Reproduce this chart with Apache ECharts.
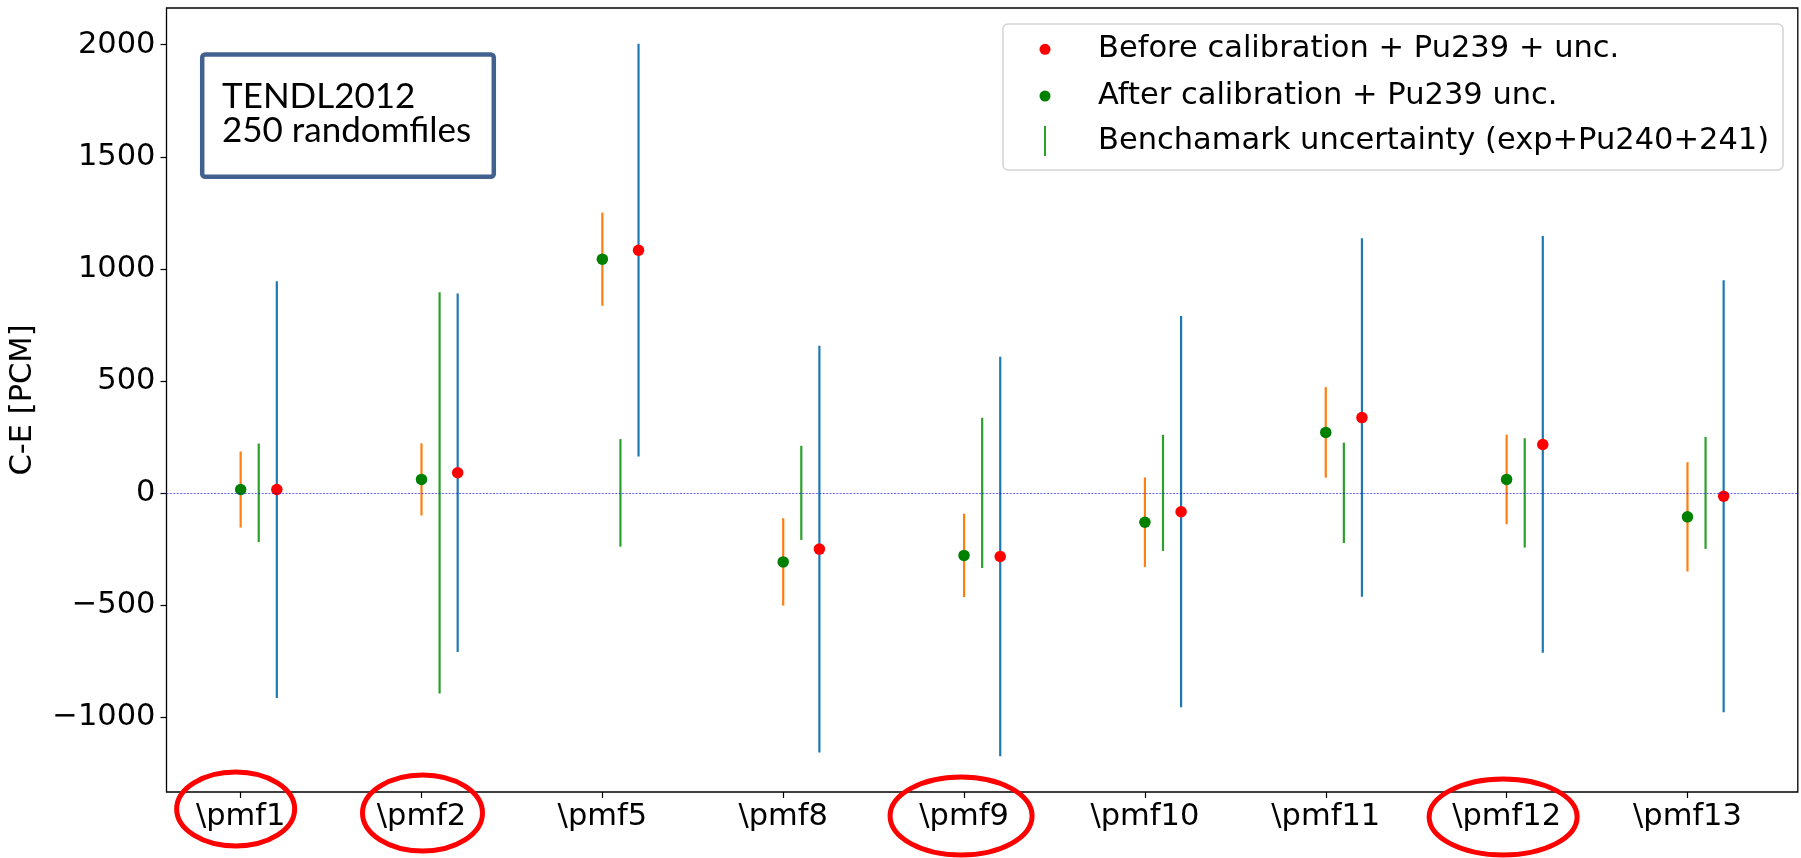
<!DOCTYPE html>
<html>
<head>
<meta charset="utf-8">
<title>C-E per benchmark</title>
<script src="https://cdn.jsdelivr.net/npm/echarts@6/dist/echarts.min.js"></script>
<style>
  html, body { margin: 0; padding: 0; background: #ffffff; }
  #chart { width: 1801px; height: 858px; }
</style>
</head>
<body>
<div id="chart"></div>
<script>
// Benchmarks on the x axis
const categories = ['\\pmf1', '\\pmf2', '\\pmf5', '\\pmf8', '\\pmf9', '\\pmf10', '\\pmf11', '\\pmf12', '\\pmf13'];
// C-E after calibration (pcm) and its Pu239 uncertainty (half-width)
const afterCal = [15, 60, 1043, -308, -279, -131, 270, 60, -107];
const afterUnc = [170, 161, 208, 195, 186, 200, 202, 200, 244];
// C-E before calibration (pcm) and its uncertainty (half-width)
const beforeCal = [15, 90, 1083, -251, -284, -84, 336, 216, -15];
const beforeUnc = [930, 800, 921, 908, 891, 873, 800, 930, 964];
// Benchmark uncertainty (exp + Pu240 + Pu241), half-width around zero
const benchUnc = [220, 895, 240, 210, 335, 259, 224, 244, 250];
// Y tick values
const yTicks = [-1000, -500, 0, 500, 1000, 1500, 2000];
// Benchmarks circled below the axis
const circled = ['\\pmf1', '\\pmf2', '\\pmf9', '\\pmf12'];

const NAME_BEFORE = 'Before calibration + Pu239 + unc.';
const NAME_AFTER = 'After calibration + Pu239 unc.';
const NAME_BENCH = 'Benchamark uncertainty (exp+Pu240+241)';

// Horizontal offsets of the three marks within one benchmark slot
const OFFSET_AFTER = 0, OFFSET_BENCH = 0.1, OFFSET_BEFORE = 0.2;

const FONT = 'DejaVu Sans';
const FS = 30.5;

const C_BLUE = '#1f77b4', C_ORANGE = '#ff7f0e', C_GREEN_BAR = '#2ca02c';
const C_RED = '#ff0000', C_GREEN = '#008000';

const chart = echarts.init(document.getElementById('chart'), null, { renderer: 'canvas', width: 1801, height: 858 });

const xIdx = categories.map((_, i) => i);

function points(values, offset) {
  return values.map((v, i) => [i + offset, v]);
}
function ranges(values, half, offset) {
  return values.map((v, i) => [i + offset, v - half[i], v + half[i]]);
}

function errorBars(name, data, color, extra) {
  return Object.assign({
    type: 'custom',
    name: name,
    data: data,
    encode: { x: 0, y: [1, 2] },
    z: 2,
    silent: true,
    renderItem: function (params, api) {
      const x = api.value(0);
      const a = api.coord([x, api.value(1)]);
      const b = api.coord([x, api.value(2)]);
      return {
        type: 'line',
        shape: { x1: a[0], y1: a[1], x2: b[0], y2: b[1] },
        style: { stroke: color, lineWidth: 2.2 }
      };
    }
  }, extra || {});
}

function fmtY(v) {
  return v < 0 ? '\u2212' + Math.abs(v) : String(v);
}

const labelStyle = { fontFamily: FONT, fontSize: FS, color: '#000' };

function legendRow(name, icon, color, left, top, w, h, padLeft) {
  return {
    data: [{ name: name, icon: icon, itemStyle: { color: color } }],
    orient: 'vertical',
    left: left,
    top: top,
    itemWidth: w,
    itemHeight: h,
    padding: 0,
    selectedMode: false,
    textStyle: Object.assign({ lineHeight: 36, padding: [0, 0, 0, padLeft] }, labelStyle)
  };
}

chart.setOption({
  animation: false,
  backgroundColor: '#ffffff',
  grid: {
    left: 166.5, right: 3.2, top: 8, bottom: 66,
    show: true, borderColor: '#000', borderWidth: 1.3,
    outerBoundsMode: 'none'
  },
  xAxis: {
    type: 'value',
    min: -0.41, max: 8.61,
    axisLine: { show: false, onZero: false },
    splitLine: { show: false },
    axisTick: { show: true, inside: false, customValues: xIdx, length: 6, lineStyle: { color: '#000', width: 1.2 } },
    axisLabel: Object.assign({
      customValues: xIdx,
      margin: 7,
      lineHeight: 36,
      formatter: v => categories[Math.round(v)]
    }, labelStyle)
  },
  yAxis: {
    type: 'value',
    min: -1335, max: 2164,
    axisLine: { show: false, onZero: false },
    splitLine: { show: false },
    axisTick: { show: true, inside: false, customValues: yTicks, length: 6, lineStyle: { color: '#000', width: 1.2 } },
    axisLabel: Object.assign({ customValues: yTicks, margin: 11, formatter: fmtY }, labelStyle),
    name: 'C-E [PCM]',
    nameLocation: 'middle',
    nameRotate: 90,
    nameGap: 116,
    nameTextStyle: Object.assign({ lineHeight: 36 }, labelStyle)
  },
  legend: [
    legendRow(NAME_BEFORE, 'circle', C_RED, 1039.5, 31.3, 11, 11, 42.5),
    legendRow(NAME_AFTER, 'circle', C_GREEN, 1039.5, 78, 11, 11, 42.5),
    legendRow(NAME_BENCH, 'path://M0,0H2V30H0Z', C_GREEN_BAR, 1044, 123, 2, 30, 47)
  ],
  graphic: [
    {
      id: 'legendFrame', type: 'rect', z: 3,
      shape: { x: 1003, y: 24, width: 780, height: 146, r: 5 },
      style: { fill: 'rgba(255,255,255,0.8)', stroke: '#d4d4d4', lineWidth: 1.5 }
    },
    {
      id: 'infoBox', type: 'rect', z: 3,
      shape: { x: 202.2, y: 54.5, width: 291.6, height: 122.3, r: 3 },
      style: { fill: '#ffffff', stroke: '#41618f', lineWidth: 4.5 }
    },
    {
      id: 'infoText', type: 'text', z: 4,
      x: 222, y: 80,
      style: {
        text: 'TENDL2012\n250 randomfiles',
        font: '35px Lato',
        lineHeight: 34,
        fill: '#000',
        textVerticalAlign: 'top'
      }
    }
  ],
  series: [
    errorBars('Before calibration unc.', ranges(beforeCal, beforeUnc, OFFSET_BEFORE), C_BLUE),
    errorBars('After calibration unc.', ranges(afterCal, afterUnc, OFFSET_AFTER), C_ORANGE),
    errorBars(NAME_BENCH, ranges(benchUnc.map(() => 0), benchUnc, OFFSET_BENCH), C_GREEN_BAR, {
      itemStyle: { color: C_GREEN_BAR },
      markLine: {
        silent: true,
        symbol: 'none',
        label: { show: false },
        lineStyle: { color: 'rgba(0,0,255,0.6)', width: 1.2, type: [2, 1.4] },
        data: [{ yAxis: 0 }]
      }
    }),
    {
      type: 'scatter', name: NAME_BEFORE, z: 3, silent: true,
      symbol: 'circle', symbolSize: 11.5,
      itemStyle: { color: C_RED, opacity: 1 },
      data: points(beforeCal, OFFSET_BEFORE)
    },
    {
      type: 'scatter', name: NAME_AFTER, z: 3, silent: true,
      symbol: 'circle', symbolSize: 11.5,
      itemStyle: { color: C_GREEN, opacity: 1 },
      data: points(afterCal, OFFSET_AFTER)
    }
  ]
});

// Red rings around selected benchmark labels, placed from the x axis scale
const ringLayout = {
  '\\pmf1': { dx: -5, dy: 17, rx: 59, ry: 37 },
  '\\pmf2': { dx: 1, dy: 21, rx: 60, ry: 38 },
  '\\pmf9': { dx: -3, dy: 24, rx: 71, ry: 39 },
  '\\pmf12': { dx: -3.5, dy: 25, rx: 74, ry: 38 }
};
const axisBottom = chart.convertToPixel({ yAxisIndex: 0 }, -1335);
const rings = circled.map(name => {
  const i = categories.indexOf(name);
  const px = chart.convertToPixel({ xAxisIndex: 0 }, i);
  const L = ringLayout[name];
  return {
    id: 'ring_' + i, type: 'ellipse', z: 6,
    shape: { cx: px + L.dx, cy: axisBottom + L.dy, rx: L.rx, ry: L.ry },
    style: { fill: 'none', stroke: '#ff0000', lineWidth: 5 }
  };
});
chart.setOption({ graphic: rings });
</script>
</body>
</html>
